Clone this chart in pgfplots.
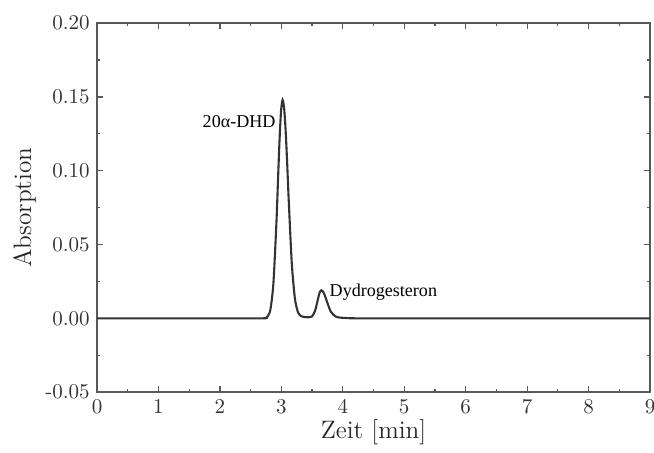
\documentclass[border=0pt]{standalone}
\usepackage{pgfplots}
\pgfplotsset{compat=1.18}
\usepackage{fontspec}
\newfontfamily\timesfont{Liberation Serif}

\begin{document}
\begin{tikzpicture}
\begin{axis}[
  name=ax,
  scale only axis,
  width=263.3pt, height=175.7pt,
  xmin=0, xmax=9, ymin=-0.05, ymax=0.20,
  xtick={0,1,...,9},
  ytick={-0.05,0,0.05,0.10,0.15,0.20},
  yticklabels={\mbox{-0.05},0.00,0.05,0.10,0.15,0.20},
  minor x tick num=1, minor y tick num=1,
  tick align=inside,
  major tick length=3pt, minor tick length=1.6pt,
  axis line style={draw=black!65, line width=0.7pt},
  every tick/.style={black!65, line width=0.6pt},
  scaled y ticks=false,
  tick label style={font=\normalsize, text=black!80},
  label style={font=\large, text=black!85},
  xlabel={Zeit [min]},
  ylabel={Absorption},
  xlabel style={yshift=3.8pt},
  ylabel style={yshift=-2.4pt},
  clip=false,
]
\addplot[line width=1pt, color=black!80, smooth, tension=0.4] coordinates {
  (0,0) (1,0) (2,0) (2.70,0) (2.75,0.0003) (2.77,0.0009) (2.82,0.0055)
  (2.87,0.0233) (2.92,0.0651) (2.945,0.0932) (2.97,0.1205) (2.995,0.1406)
  (3.02,0.1480) (3.045,0.1424) (3.07,0.1269) (3.095,0.1046) (3.12,0.0798)
  (3.17,0.0369) (3.22,0.0135) (3.27,0.0041) (3.32,0.0015) (3.37,0.0009)
  (3.42,0.0007) (3.47,0.0008) (3.50,0.0013) (3.55,0.0052) (3.60,0.0138)
  (3.625,0.0178) (3.65,0.0190) (3.675,0.0183) (3.70,0.0163) (3.75,0.0104)
  (3.80,0.0049) (3.85,0.0023) (3.90,0.0009) (3.95,0.0005) (4.05,0.0002)
  (4.2,0) (5,0) (6,0) (7,0) (8,0) (9,0)
};
\node[anchor=east, font=\timesfont\fontsize{8.6}{10}\selectfont, inner sep=0pt]
  at (axis cs:2.91,0.133) {20α-DHD};
\node[anchor=west, font=\timesfont\fontsize{8.6}{10}\selectfont, inner sep=0pt]
  at (axis cs:3.78,0.0176) {Dydrogesteron};
\end{axis}
\path (ax.south west) ++(-46.2pt,-28.6pt) coordinate (bbA);
\path (ax.north east) ++(1.9pt,11pt) coordinate (bbB);
\pgfresetboundingbox
\path (bbA) rectangle (bbB);
\end{tikzpicture}
\end{document}
